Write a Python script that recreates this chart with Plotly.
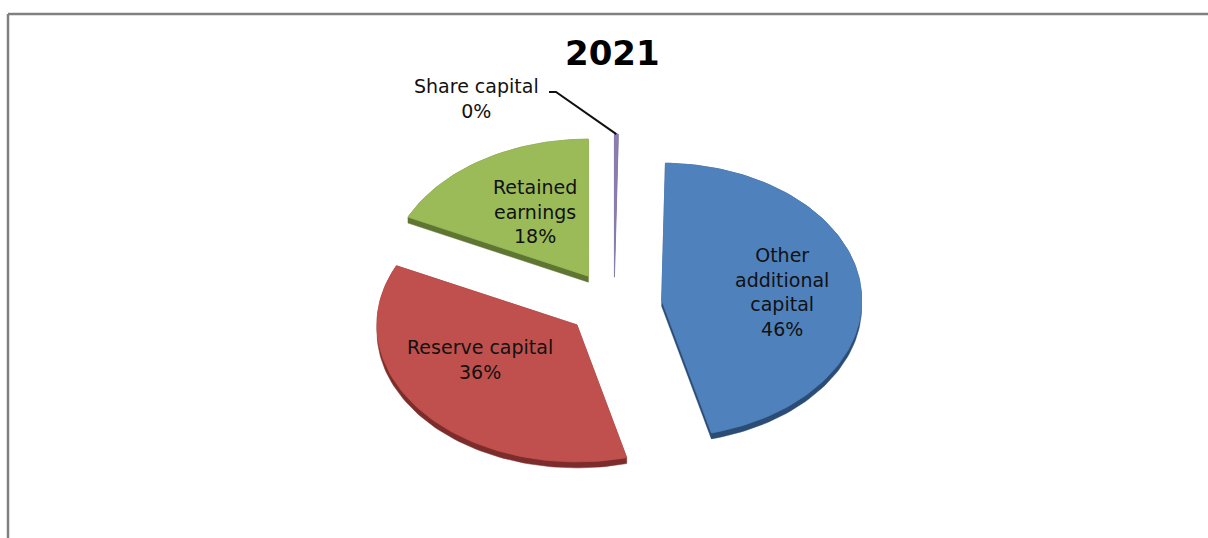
import math
import plotly.graph_objects as go

# ---- data -------------------------------------------------------------
categories = ["Share capital", "Other additional capital", "Reserve capital", "Retained earnings"]
shares = [0.3, 45.7, 36.1, 17.9]          # % of equity
label_lines = [["Share capital"], ["Other", "additional", "capital"],
               ["Reserve capital"], ["Retained", "earnings"]]
chart_title = "2021"

# ---- styles -----------------------------------------------------------
face_colors = ["#8A7DB2", "#4F81BD", "#C0504D", "#9BBB59"]
side_colors = ["#5A5080", "#2B4C74", "#7C2D2B", "#5E7632"]
FONT = "DejaVu Sans"

# pie geometry (tilted, exploded)
CX, CY = 614, 304
RX, RY = 200, 137
PULL = 0.24
DEPTH = 6

# label anchor points (centre of each text block)
label_pos = [(476, 98), (782, 292), (480, 359), (535, 211)]


def pt(cx, cy, ang, f=1.0):
    """Point on the tilted ellipse; angle in degrees clockwise from 12 o'clock."""
    a = math.radians(ang)
    return cx + f * RX * math.sin(a), cy - f * RY * math.cos(a)


def hull(points):
    pts = sorted(set(points))
    if len(pts) < 3:
        return pts

    def cross(o, a, b):
        return (a[0] - o[0]) * (b[1] - o[1]) - (a[1] - o[1]) * (b[0] - o[0])

    lower, upper = [], []
    for p in pts:
        while len(lower) >= 2 and cross(lower[-2], lower[-1], p) <= 0:
            lower.pop()
        lower.append(p)
    for p in reversed(pts):
        while len(upper) >= 2 and cross(upper[-2], upper[-1], p) <= 0:
            upper.pop()
        upper.append(p)
    return lower[:-1] + upper[:-1]


total = sum(shares)
starts, ends = [], []
acc = 0.0
for v in shares:
    starts.append(acc / total * 360)
    acc += v
    ends.append(acc / total * 360)

fig = go.Figure()

wedges = []
for i, v in enumerate(shares):
    a0, a1 = starts[i], ends[i]
    mid = (a0 + a1) / 2
    cx, cy = pt(CX, CY, mid, PULL)
    n = max(2, int((a1 - a0) / 1.5) + 2)
    arc = [pt(cx, cy, a0 + (a1 - a0) * k / (n - 1)) for k in range(n)]
    poly = [(cx, cy)] + arc
    wedges.append((poly, cx, cy, mid))

# draw back slices first
order = sorted(range(len(shares)), key=lambda i: wedges[i][2])
for i in order:
    poly, cx, cy, mid = wedges[i]
    side = hull([(round(x, 3), round(y, 3)) for x, y in poly] +
                [(round(x, 3), round(y + DEPTH, 3)) for x, y in poly])
    side.append(side[0])
    fig.add_trace(go.Scatter(
        x=[p[0] for p in side], y=[p[1] for p in side],
        mode="lines", fill="toself", fillcolor=side_colors[i],
        line=dict(width=0.5, color=side_colors[i]),
        hoverinfo="skip", showlegend=False))
    closed = poly + [poly[0]]
    fig.add_trace(go.Scatter(
        x=[p[0] for p in closed], y=[p[1] for p in closed],
        mode="lines", fill="toself", fillcolor=face_colors[i],
        line=dict(width=0.8, color=face_colors[i]),
        name=categories[i], hoverinfo="name", showlegend=False))

# leader line for the thin share-capital slice
_, scx, scy, smid = wedges[0]
tip = pt(scx, scy, smid)
lx, ly = label_pos[0]
fig.add_trace(go.Scatter(
    x=[lx + 73, lx + 80, tip[0]], y=[ly - 6, ly - 6, tip[1]],
    mode="lines", line=dict(color="#111111", width=2),
    hoverinfo="skip", showlegend=False))

annotations = []
for i, v in enumerate(shares):
    pct = round(v / total * 100)
    text = "<br>".join(label_lines[i] + [f"{pct}%"])
    x, y = label_pos[i]
    annotations.append(dict(
        x=x, y=y, xref="x", yref="y", text=text, showarrow=False,
        xanchor="center", yanchor="middle", align="center",
        font=dict(family=FONT, size=19, color="#111111")))

annotations.append(dict(
    x=612, y=53, xref="x", yref="y", text=f"<b>{chart_title}</b>",
    showarrow=False, xanchor="center", yanchor="middle",
    font=dict(family=FONT, size=34, color="#000000")))

fig.update_layout(
    width=1208, height=538,
    margin=dict(l=0, r=0, t=0, b=0),
    paper_bgcolor="white", plot_bgcolor="white",
    xaxis=dict(range=[0, 1208], visible=False, fixedrange=True),
    yaxis=dict(range=[538, 0], visible=False, fixedrange=True),
    annotations=annotations,
    shapes=[
        dict(type="line", xref="x", yref="y", x0=8, y0=14, x1=1208, y1=14,
             line=dict(color="#808080", width=2.5)),
        dict(type="line", xref="x", yref="y", x0=8, y0=14, x1=8, y1=538,
             line=dict(color="#808080", width=2.5)),
    ],
)

fig.write_html("out.html")
